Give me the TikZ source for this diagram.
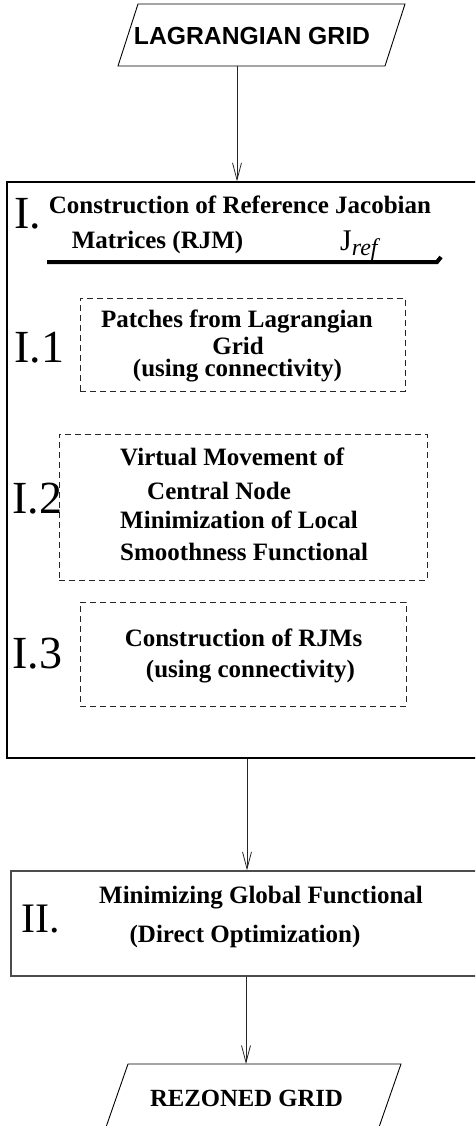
\documentclass[tikz,border=0pt]{standalone}
\usepackage{fontspec}
\setmainfont{Liberation Serif}
\newfontfamily\hvfont{Liberation Sans}
\usetikzlibrary{arrows.meta}
\begin{document}
\begin{tikzpicture}[x=1pt,y=-1pt,
  arr/.style={draw=black!85, line width=0.8pt, -{Straight Barb[length=17pt,width=9pt]}},
  bigbox/.style={draw=black, line width=1.2pt, rectangle, inner sep=0pt},
  greybox/.style={draw=black!70, line width=1.2pt, rectangle, inner sep=0pt},
  dbox/.style={draw=black!85, line width=0.8pt, dash pattern=on 6pt off 4pt, rectangle, inner sep=0pt},
  para/.style={draw=black, line width=0.9pt},
  txt/.style={font=\fontsize{25}{30}\selectfont\bfseries, inner sep=0pt, anchor=base},
  txtw/.style={txt, anchor=base west},
  num/.style={font=\fontsize{46}{50}\selectfont, inner sep=0pt, anchor=base west},
]
\useasboundingbox (0,0) rectangle (475,1126);
\clip (0,0) rectangle (475,1126);

% top parallelogram
\draw[para] (138,4) -- (405,4) -- (385,66) -- (118,66) -- cycle;
\node[inner sep=0pt, anchor=base, font=\hvfont\fontsize{24.7}{28}\selectfont\bfseries] (lag) at (252,45) {LAGRANGIAN GRID};
\coordinate (lagbot) at (237,66);

% box I
\node[bigbox, minimum width=483pt, minimum height=576pt] (boxI) at (248.5,470) {};
\node[num] (nI) at (14,228) {I.};
\node[txt] (t1a) at (240,213) {Construction of Reference Jacobian};
\node[txt] (t1b) at (157.5,248) {Matrices (RJM)};
\node[inner sep=0pt, anchor=base west] (jref) at (340,250) {\fontsize{30}{30}\selectfont J\raisebox{-5pt}{\fontsize{24}{24}\selectfont\itshape ref}};
\draw[line width=4pt, line join=miter] (47,262) -- (437,262) -- (441,257);

% I.1
\node[dbox, minimum width=325pt, minimum height=93pt] (b11) at (242.5,344.5) {};
\node[num] (n11) at (14,362) {I.1};
\node[txt] (t11a) at (237,327) {Patches from Lagrangian};
\node[txt] (t11b) at (238,354) {Grid};
\node[txt] (t11c) at (237.5,376) {(using connectivity)};

% I.2
\node[dbox, minimum width=368pt, minimum height=146pt] (b12) at (243,507) {};
\node[num] (n12) at (12,513) {I.2};
\node[txtw] (t12a) at (120,465) {Virtual Movement of};
\node[txtw] (t12b) at (147,499) {Central Node};
\node[txtw] (t12c) at (120,528) {Minimization of Local};
\node[txtw] (t12d) at (120,560) {Smoothness Functional};

% I.3
\node[dbox, minimum width=326pt, minimum height=104pt] (b13) at (243,654) {};
\node[num] (n13) at (12,668) {I.3};
\node[txt] (t13a) at (243.5,646) {Construction of RJMs};
\node[txt] (t13b) at (250.5,677) {(using connectivity)};

% box II
\node[greybox, minimum width=479pt, minimum height=105pt] (boxII) at (250.5,923.5) {};
\node[num, font=\fontsize{42}{46}\selectfont] (nII) at (21,932) {II.};
\node[txt] (t2a) at (261,903) {Minimizing Global Functional};
\node[txt] (t2b) at (245,942) {(Direct Optimization)};

% bottom parallelogram
\draw[para] (105,1130) -- (128,1064) -- (401,1064) -- (378,1130);
\node[inner sep=0pt, anchor=base, font=\fontsize{24.7}{28}\selectfont\bfseries] (rez) at (246.5,1106) {REZONED GRID};
\coordinate (reztop) at (246,1064);

% connectors
\coordinate (a2) at (247,0);
\draw[arr] (lagbot) -- (lagbot |- boxI.north);
\draw[arr] (a2 |- boxI.south) -- (a2 |- boxII.north);
\draw[arr] (reztop |- boxII.south) -- (reztop);
\end{tikzpicture}
\end{document}
